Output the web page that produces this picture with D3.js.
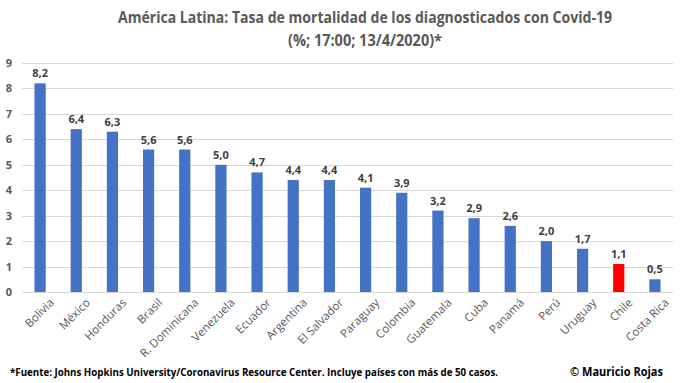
<!DOCTYPE html>
<html>
<head>
<meta charset="utf-8">
<script src="https://cdn.jsdelivr.net/npm/d3@7"></script>
<style>
  body { margin: 0; background: #fff; }
  text { font-family: "Open Sans", sans-serif; }
</style>
</head>
<body>
<div id="chart"></div>
<script>
// Data
var countries = ["Bolivia", "México", "Honduras", "Brasil", "R. Dominicana", "Venezuela", "Ecuador",
  "Argentina", "El Salvador", "Paraguay", "Colombia", "Guatemala", "Cuba", "Panamá", "Perú",
  "Uruguay", "Chile", "Costa Rica"];
var rates = [8.2, 6.4, 6.3, 5.6, 5.6, 5.0, 4.7, 4.4, 4.4, 4.1, 3.9, 3.2, 2.9, 2.6, 2.0, 1.7, 1.1, 0.5];
var yTicks = [0, 1, 2, 3, 4, 5, 6, 7, 8, 9];
var highlight = "Chile";

var titleLines = ["América Latina: Tasa de mortalidad de los diagnosticados con Covid-19",
  "(%; 17:00; 13/4/2020)*"];
var titleWidths = [494, 154];
var sourceNote = "*Fuente: Johns Hopkins University/Coronavirus Resource Center. Incluye países con más de 50 casos.";
var credit = "© Mauricio Rojas";

// SVG container
var svgWidth = 680;
var svgHeight = 383;

var margin = { top: 63, bottom: 91, right: 7, left: 22 };
var chartHeight = svgHeight - margin.top - margin.bottom;
var chartWidth = svgWidth - margin.left - margin.right;

var svg = d3.select("#chart").append("svg")
  .attr("width", svgWidth)
  .attr("height", svgHeight);

var chartGroup = svg.append("g")
  .attr("transform", `translate(${margin.left}, ${margin.top})`);

// Scales
var xBandScale = d3.scaleBand()
  .domain(countries)
  .range([0, chartWidth])
  .paddingInner(0.69)
  .paddingOuter(0.345);

var yLinearScale = d3.scaleLinear()
  .domain([0, 9])
  .range([chartHeight, 0]);

// Gridlines
chartGroup.append("g")
  .selectAll("line")
  .data(yTicks)
  .enter()
  .append("line")
  .attr("x1", 0)
  .attr("x2", chartWidth)
  .attr("y1", d => Math.round(yLinearScale(d)) + 0.5)
  .attr("y2", d => Math.round(yLinearScale(d)) + 0.5)
  .attr("stroke", "#d9d9d9")
  .attr("stroke-width", 1);

// y axis
var yAxis = d3.axisLeft(yLinearScale).tickValues(yTicks).tickSize(0).tickPadding(10);
var yAxisGroup = chartGroup.append("g").call(yAxis);
yAxisGroup.select(".domain").remove();
yAxisGroup.selectAll("text")
  .attr("fill", "#595959")
  .style("font-size", "11px")
  .style("font-weight", "bold");

// x axis
var xAxis = d3.axisBottom(xBandScale).tickSize(0).tickPadding(8);
var xAxisGroup = chartGroup.append("g")
  .attr("transform", `translate(0, ${chartHeight})`)
  .call(xAxis);
xAxisGroup.select(".domain").remove();
xAxisGroup.selectAll("text")
  .attr("fill", "#595959")
  .style("font-size", "11.5px")
  .attr("text-anchor", "end")
  .attr("dx", "0.2em")
  .attr("dy", "0.9em")
  .attr("transform", "rotate(-45)");

// Bars
chartGroup.selectAll("rect.bar")
  .data(rates)
  .enter()
  .append("rect")
  .attr("class", "bar")
  .attr("x", (d, i) => xBandScale(countries[i]))
  .attr("y", d => yLinearScale(d))
  .attr("width", xBandScale.bandwidth())
  .attr("height", d => chartHeight - yLinearScale(d))
  .attr("fill", (d, i) => countries[i] === highlight ? "#ff0000" : "#4472c4");

// Value labels
chartGroup.selectAll("text.value")
  .data(rates)
  .enter()
  .append("text")
  .attr("class", "value")
  .attr("x", (d, i) => xBandScale(countries[i]) + xBandScale.bandwidth() / 2)
  .attr("y", d => yLinearScale(d) - 6)
  .attr("text-anchor", "middle")
  .attr("fill", "#404040")
  .style("font-size", "11px")
  .style("font-weight", "bold")
  .text(d => d.toFixed(1).replace(".", ","));

// Title
svg.append("g")
  .selectAll("text")
  .data(titleLines)
  .enter()
  .append("text")
  .attr("text-anchor", "middle")
  .attr("fill", "#595959")
  .style("font-size", "16px")
  .style("font-weight", "bold")
  .attr("x", 365)
  .attr("y", (d, i) => 23 + i * 23)
  .attr("textLength", (d, i) => titleWidths[i])
  .attr("lengthAdjust", "spacingAndGlyphs")
  .text(d => d);

// Footer
svg.append("text")
  .attr("x", 10)
  .attr("y", 376)
  .attr("fill", "#000")
  .style("font-size", "10.5px")
  .style("font-weight", "bold")
  .attr("textLength", 488)
  .attr("lengthAdjust", "spacingAndGlyphs")
  .text(sourceNote);

svg.append("text")
  .attr("x", 570)
  .attr("y", 376)
  .attr("fill", "#000")
  .style("font-size", "11.5px")
  .style("font-weight", "bold")
  .attr("textLength", 93)
  .attr("lengthAdjust", "spacingAndGlyphs")
  .text(credit);
</script>
</body>
</html>
